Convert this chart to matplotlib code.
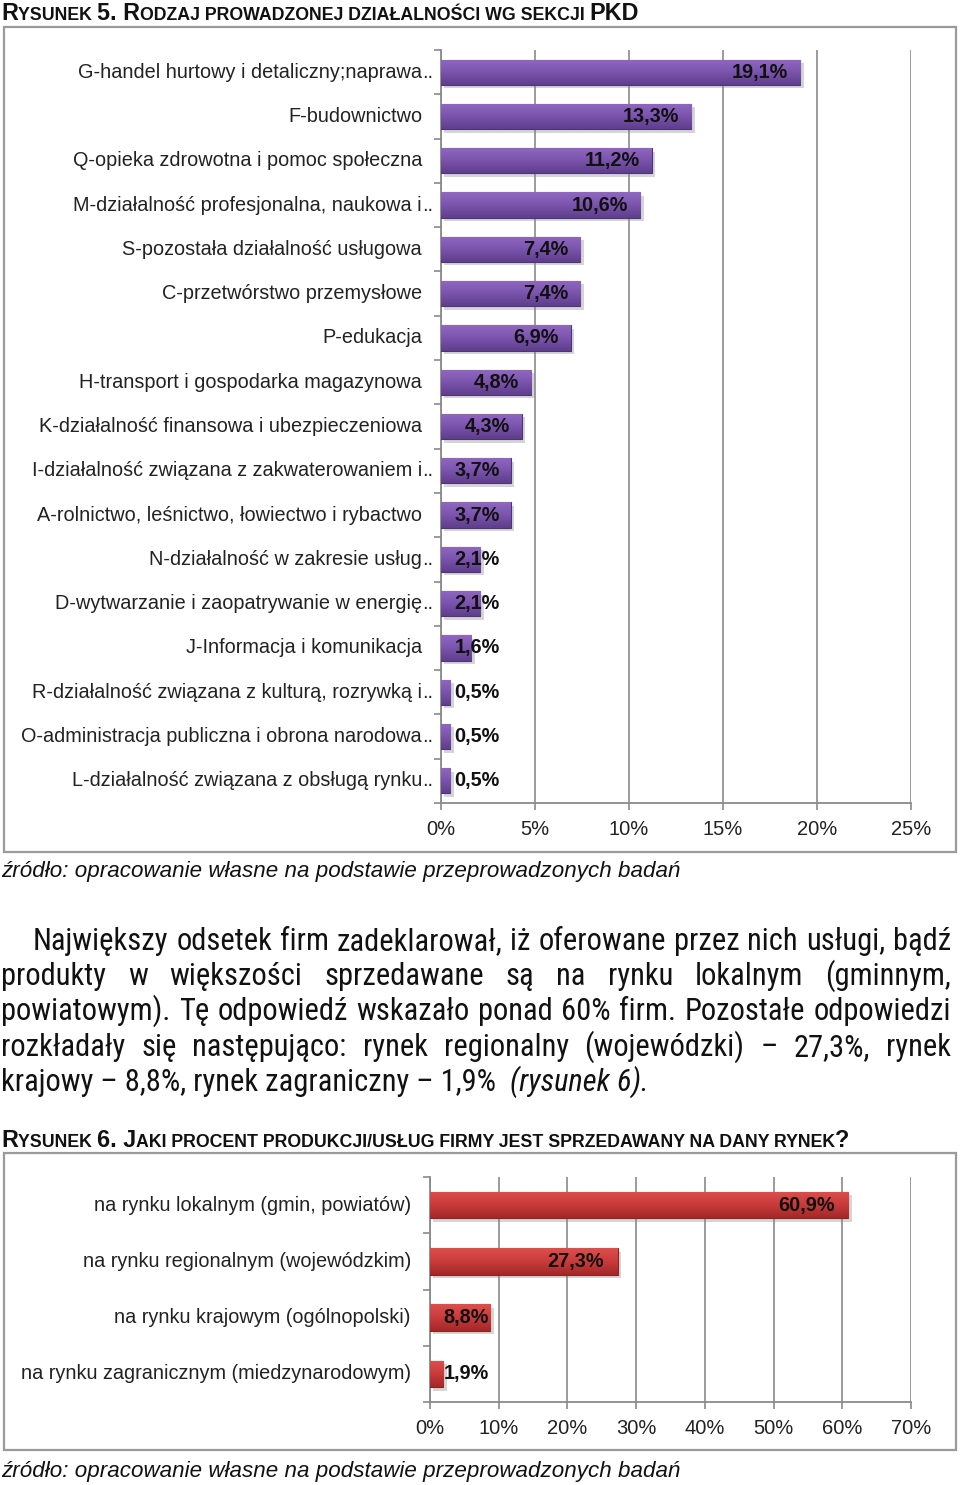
import numpy as np
import matplotlib
matplotlib.use('Agg')
import matplotlib.pyplot as plt
import matplotlib.patheffects as pe
from matplotlib import font_manager as fm
from matplotlib.colors import LinearSegmentedColormap
from matplotlib.patches import Rectangle

# --- data ---
sections = ['G-handel hurtowy i detaliczny;naprawa..', 'F-budownictwo',
            'Q-opieka zdrowotna i pomoc społeczna',
            'M-działalność profesjonalna, naukowa i..',
            'S-pozostała działalność usługowa', 'C-przetwórstwo przemysłowe',
            'P-edukacja', 'H-transport i gospodarka magazynowa',
            'K-działalność finansowa i ubezpieczeniowa',
            'I-działalność związana z zakwaterowaniem i..',
            'A-rolnictwo, leśnictwo, łowiectwo i rybactwo',
            'N-działalność w zakresie usług..',
            'D-wytwarzanie i zaopatrywanie w energię..',
            'J-Informacja i komunikacja',
            'R-działalność związana z kulturą, rozrywką i..',
            'O-administracja publiczna i obrona narodowa..',
            'L-działalność związana z obsługą rynku..']
section_pct = [19.1, 13.3, 11.2, 10.6, 7.4, 7.4, 6.9, 4.8, 4.3, 3.7, 3.7,
               2.1, 2.1, 1.6, 0.5, 0.5, 0.5]

markets = ['na rynku lokalnym (gmin, powiatów)',
           'na rynku regionalnym (wojewódzkim)',
           'na rynku krajowym (ogólnopolski)',
           'na rynku zagranicznym (miedzynarodowym)']
market_pct = [60.9, 27.3, 8.8, 1.9]

W, H = 960, 1485
FONT = 'Liberation Sans'
plt.rcParams['font.family'] = [FONT, 'DejaVu Sans']


# look for a condensed sans face for the body paragraph
def find_narrow(italic=False):
    want = 'italic' if italic else 'normal'
    best = None
    for f in fm.fontManager.ttflist:
        narrow = ('Narrow' in f.name or 'Condensed' in f.name
                  or 'condensed' in str(f.stretch))
        if not narrow or f.style != want:
            continue
        if f.weight not in (400, 'normal', 'regular', 'book'):
            continue
        rank = 0 if 'Liberation' in f.name else (1 if 'Roboto' in f.name else 2)
        if best is None or rank < best[0]:
            best = (rank, f.fname)
    return best[1] if best else None


nar = find_narrow()
nar_it = find_narrow(True)


def body_font(size, italic=False):
    path = nar_it if italic else nar
    if path:
        return fm.FontProperties(fname=path, size=size)
    return fm.FontProperties(family=FONT, size=size, style='italic' if italic else 'normal')


fig = plt.figure(figsize=(W / 100, H / 100), dpi=100)
fig.patch.set_facecolor('white')


def fx(x):
    return x / W


def fy(y):
    return 1 - y / H


def ax_rect(x0, y0, x1, y1):
    return [fx(x0), fy(y1), (x1 - x0) / W, (y1 - y0) / H]


purple = LinearSegmentedColormap.from_list('p', ['#9068c2', '#7b54ad', '#5f3e8c'])
red = LinearSegmentedColormap.from_list('r', ['#dc4f4c', '#c93b3b', '#a32828'])


def draw_chart(rect, labels, values, xmax, step, cmap, edge, bar_h, pad, min_end):
    ax = fig.add_axes(rect)
    n = len(values)
    pos = np.arange(n)
    bars = ax.barh(pos, values, height=bar_h, color=cmap(0.5), edgecolor=edge,
                   linewidth=0.8, zorder=3,
                   path_effects=[pe.SimplePatchShadow(offset=(2.5, -2.5), shadow_rgbFace='#888888', alpha=0.35),
                                 pe.Normal()])
    grad = np.linspace(0, 1, 64).reshape(-1, 1)
    for b in bars:
        im = ax.imshow(grad, cmap=cmap, aspect='auto', zorder=3.5,
                       extent=[b.get_x(), b.get_x() + b.get_width(),
                               b.get_y() + b.get_height(), b.get_y()])
        im.set_clip_path(b)
    ax.set_xlim(0, xmax)
    ax.set_ylim(n - 0.5, -0.5)
    ax.set_xticks(np.arange(0, xmax + 0.01, step))
    ax.set_xticklabels(['%d%%' % t for t in np.arange(0, xmax + 0.01, step)])
    ax.set_yticks(np.arange(-0.5, n, 1.0))
    ax.set_yticklabels([])
    ax.xaxis.grid(True, color='#8a8a8a', linewidth=1.2, zorder=0)
    ax.set_axisbelow(True)
    for s in ['top', 'right']:
        ax.spines[s].set_visible(False)
    for s in ['left', 'bottom']:
        ax.spines[s].set_color('#8a8a8a')
        ax.spines[s].set_linewidth(1.3)
    ax.tick_params(axis='x', length=5, width=1.2, color='#8a8a8a', pad=7,
                   labelsize=14.5, labelcolor='#222222')
    ax.tick_params(axis='y', length=5, width=1.2, color='#8a8a8a')
    ax.patch.set_alpha(0)
    for i, (lab, v) in enumerate(zip(labels, values)):
        off = -19.0 / (rect[2] * W) * xmax
        if lab.endswith('..'):
            ax.text(off, i, lab[:-2], ha='right', va='center', fontsize=14.3, color='#222222')
            ax.text(off, i, '..', ha='left', va='center', fontsize=14.3, color='#222222')
        else:
            ax.text(off, i, lab, ha='right', va='center', fontsize=14.3, color='#222222')
        ax.text(max(v - pad, min_end), i, ('%.1f%%' % v).replace('.', ','), ha='right',
                va='center', fontsize=14.3, fontweight='bold', color='#111111', zorder=5)
    return ax


# frames
for y0, y1 in [(27, 852), (1153, 1450)]:
    fig.add_artist(Rectangle((fx(4), fy(y1)), fx(952), (y1 - y0) / H, transform=fig.transFigure,
                             fill=False, edgecolor='#9a9a9a', linewidth=1.6))

draw_chart(ax_rect(441, 50, 911, 803), sections, section_pct, 25, 5, purple, '#4f3278',
           0.57, 0.64, 3.12)
draw_chart(ax_rect(430, 1177, 911, 1402), markets, market_pct, 70, 10, red, '#8e2222',
           0.47, 1.97, 8.6)

renderer = fig.canvas.get_renderer()


def small_caps(parts, x, y):
    for txt, size in parts:
        t = fig.text(fx(x), fy(y), txt, fontsize=size, fontweight='bold', va='baseline',
                     color='#111111')
        x += t.get_window_extent(renderer).width


small_caps([('R', 16.8), ('YSUNEK ', 12.8), ('5. R', 16.8),
            ('ODZAJ PROWADZONEJ DZIAŁALNOŚCI WG SEKCJI ', 12.8), ('PKD', 16.8)], 1, 20)
small_caps([('R', 16.8), ('YSUNEK ', 12.8), ('6. J', 16.8),
            ('AKI PROCENT PRODUKCJI/USŁUG FIRMY JEST SPRZEDAWANY NA DANY RYNEK', 12.8),
            ('?', 16.8)], 1, 1147)

src = 'źródło: opracowanie własne na podstawie przeprowadzonych badań'
fig.text(fx(1), fy(877), src, fontsize=16.1, style='italic', va='baseline', color='#111111')
fig.text(fx(1), fy(1477), src, fontsize=16.1, style='italic', va='baseline', color='#111111')

# paragraph: size chosen so the last line spans the same width as in the page
last_a = 'krajowy – 8,8%, rynek zagraniczny – 1,9%  '
last_b = '(rysunek 6).'
probe_a = fig.text(0, 0, last_a, fontproperties=body_font(20))
probe_b = fig.text(0, 0, last_b, fontproperties=body_font(20, True))
wid = probe_a.get_window_extent(renderer).width + probe_b.get_window_extent(renderer).width
probe_a.remove()
probe_b.remove()
PSIZE = min(22.0, 20 * 661.0 / wid)

lines = [('Największy odsetek firm zadeklarował, iż oferowane przez  nich usługi, bądź', 33, 951),
         ('produkty w większości sprzedawane są na rynku lokalnym (gminnym,', 1, 951),
         ('powiatowym). Tę odpowiedź wskazało ponad 60% firm. Pozostałe odpowiedzi', 1, 951),
         ('rozkładały się następująco: rynek regionalny (wojewódzki) – 27,3%, rynek', 1, 951)]
base = [950, 985, 1020, 1056]
for (line, x0, x1), yb in zip(lines, base):
    words = line.split()
    ts = [fig.text(0, fy(yb), w, fontproperties=body_font(PSIZE), va='baseline', color='#111111')
          for w in words]
    ws = [t.get_window_extent(renderer).width for t in ts]
    gap = (x1 - x0 - sum(ws)) / (len(words) - 1)
    x = x0
    for t, w in zip(ts, ws):
        t.set_x(fx(x))
        x += w + gap

t = fig.text(fx(1), fy(1091), last_a, fontproperties=body_font(PSIZE), va='baseline',
             color='#111111')
xe = 1 + t.get_window_extent(renderer).width
fig.text(fx(xe), fy(1091), last_b, fontproperties=body_font(PSIZE, True), va='baseline',
         color='#111111')

fig.savefig('out.png', dpi=100, facecolor='white')
